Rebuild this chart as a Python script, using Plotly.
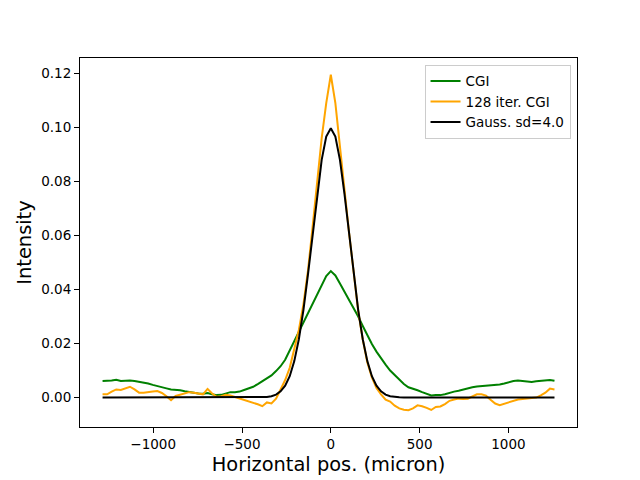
import plotly.graph_objects as go

# sample index relative to centre, spacing ~25.7 micron
idx = list(range(-50, 50))
step = 25.7
x_pos = [k * step for k in idx]

cgi = [
    0.0061, 0.0061, 0.0063, 0.0066, 0.0061, 0.0062, 0.0063, 0.0061, 0.0058, 0.0056,
    0.0052, 0.0047, 0.0042, 0.0038, 0.0034, 0.0030, 0.0029, 0.0027, 0.0023, 0.0020,
    0.0018, 0.0015, 0.0014, 0.0017, 0.0012, 0.0009, 0.0010, 0.0014, 0.0020, 0.0020,
    0.0022, 0.0028, 0.0033, 0.0040, 0.0050, 0.0060, 0.0070, 0.0082, 0.0098, 0.0116,
    0.0140, 0.0175, 0.0208, 0.0240, 0.0280, 0.0310, 0.0345, 0.0385, 0.0420, 0.0450,
    0.0468,
    0.0452, 0.0422, 0.0392, 0.0365, 0.0333, 0.0300, 0.0265, 0.0230, 0.0198, 0.0170,
    0.0145, 0.0122, 0.0100, 0.0082, 0.0066, 0.0050, 0.0038, 0.0033, 0.0027, 0.0020,
    0.0013, 0.0008, 0.0009, 0.0009, 0.0012, 0.0018, 0.0022, 0.0025, 0.0030, 0.0035,
    0.0038, 0.0041, 0.0042, 0.0043, 0.0045, 0.0046, 0.0048, 0.0052, 0.0057, 0.0061,
    0.0063, 0.0061, 0.0059, 0.0058, 0.0060, 0.0062, 0.0064, 0.0065, 0.0062,
]

cgi128 = [
    0.0012, 0.0012, 0.0022, 0.0030, 0.0028, 0.0035, 0.0040, 0.0030, 0.0018, 0.0018,
    0.0021, 0.0022, 0.0024, 0.0017, 0.0005, -0.0010, 0.0006, 0.0010, 0.0014, 0.0020,
    0.0018, 0.0014, 0.0012, 0.0032, 0.0015, 0.0003, 0.0005, 0.0010, 0.0008, 0.0002,
    -0.0003, -0.0008, -0.0015, -0.0020, -0.0025, -0.0032, -0.0018, -0.0022, -0.0004, 0.0030,
    0.0065, 0.0110, 0.0180, 0.0250, 0.0345, 0.0470, 0.0630, 0.0800, 0.0960, 0.1090,
    0.1195,
    0.1090, 0.0940, 0.0770, 0.0610, 0.0460, 0.0320, 0.0215, 0.0130, 0.0075, 0.0035,
    0.0012, -0.0008, -0.0015, -0.0030, -0.0040, -0.0045, -0.0047, -0.0040, -0.0029, -0.0032,
    -0.0038, -0.0046, -0.0035, -0.0033, -0.0024, -0.0012, -0.0007, -0.0004, -0.0005, -0.0004,
    0.0004, 0.0012, 0.0012, 0.0007, -0.0008, -0.0022, -0.0028, -0.0023, -0.0017, -0.0012,
    -0.0007, -0.0005, -0.0004, -0.0003, 0.0000, 0.0008, 0.0018, 0.0033, 0.0030,
]

gauss = [0.0] * 35 + [
    0.0001, 0.0002, 0.0005, 0.0011, 0.0023, 0.0044, 0.0079, 0.0135, 0.0216, 0.0324,
    0.0456, 0.0605, 0.0753, 0.0880, 0.0966,
    0.0997,
    0.0966, 0.0880, 0.0753, 0.0605, 0.0456, 0.0324, 0.0216, 0.0135, 0.0079, 0.0044,
    0.0023, 0.0011, 0.0005, 0.0002, 0.0001,
] + [0.0] * 34

names = ["CGI", "128 iter. CGI", "Gauss. sd=4.0"]
colors = ["green", "orange", "black"]

x_ticks = [-1000, -500, 0, 500, 1000]
x_ticktext = ["\u22121000", "\u2212500", "0", "500", "1000"]
y_ticks = [0.00, 0.02, 0.04, 0.06, 0.08, 0.10, 0.12]

fig = go.Figure()
for series, name, color in zip([cgi, cgi128, gauss], names, colors):
    fig.add_trace(go.Scatter(x=x_pos, y=series, mode="lines", name=name,
                             line=dict(color=color, width=2)))

font = dict(family="DejaVu Sans", size=13.5, color="black")
axis_common = dict(showline=True, linecolor="black", linewidth=1, mirror=True,
                   ticks="outside", ticklen=5, tickwidth=1, tickcolor="black",
                   showgrid=False, zeroline=False, tickfont=font, automargin=False)

fig.update_layout(
    width=632, height=472,
    margin=dict(l=72, r=63, t=50, b=53),
    paper_bgcolor="white", plot_bgcolor="white",
    font=font,
    showlegend=True,
    legend=dict(x=0.987, y=0.982, xanchor="right", yanchor="top",
                bgcolor="rgba(255,255,255,0.8)", bordercolor="#cccccc", borderwidth=1,
                font=dict(family="DejaVu Sans", size=13.5, color="black"),
                tracegroupgap=0, itemwidth=30),
    xaxis=dict(range=[-1412, 1386], tickvals=x_ticks, ticktext=x_ticktext,
               title=dict(text="Horizontal pos. (micron)",
                          font=dict(family="DejaVu Sans", size=19.4, color="black"),
                          standoff=6),
               **axis_common),
    yaxis=dict(range=[-0.0109, 0.1257], tickvals=y_ticks, tickformat=".2f",
               title=dict(text="Intensity",
                          font=dict(family="DejaVu Sans", size=19.4, color="black"),
                          standoff=4),
               **axis_common),
)

fig.write_html("out.html")
